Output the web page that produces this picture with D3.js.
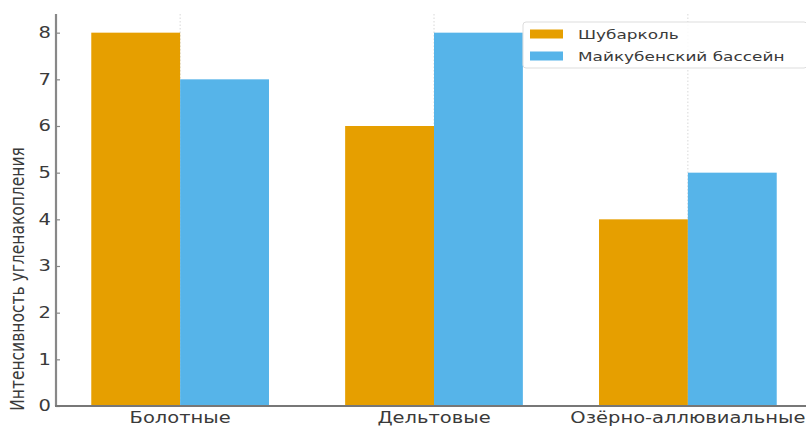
<!DOCTYPE html>
<html><head><meta charset="utf-8">
<script src="https://cdn.jsdelivr.net/npm/d3@7"></script>
<style>body{margin:0;background:#fff}svg{display:block}text{font-family:"DejaVu Sans",sans-serif}</style>
</head><body><svg id="c" width="806" height="426"></svg>
<script>
const categories = ["Болотные", "Дельтовые", "Озёрно-аллювиальные"];
const seriesNames = ["Шубарколь", "Майкубенский бассейн"];
const shubarkol = [8, 6, 4];
const maikuben = [7, 8, 5];
const colors = ["#E69F00", "#56B4E9"];
const yTicks = [0, 1, 2, 3, 4, 5, 6, 7, 8];
const yLabel = "Интенсивность угленакопления";

const svg = d3.select("#c");
const SX = 1.3;
const x = d3.scaleLinear().domain([-0.485, 2.485]).range([57, 811]);
const y = d3.scaleLinear().domain([0, 8.4]).range([406, 14]);
const bw = 0.35;
const series = [shubarkol, maikuben];

// vertical dotted grid at category centers
svg.append("g").selectAll("line").data(categories).join("line")
  .attr("x1", (d, i) => x(i)).attr("x2", (d, i) => x(i))
  .attr("y1", y(8.4)).attr("y2", y(0))
  .attr("stroke", "#d8d8d8").attr("stroke-width", 1).attr("stroke-dasharray", "1.5,2");

// bars
series.forEach((vals, s) => {
  svg.append("g").selectAll("rect").data(vals).join("rect")
    .attr("x", (d, i) => s === 0 ? x(i - bw) : x(i))
    .attr("width", x(bw) - x(0))
    .attr("y", d => y(d))
    .attr("height", d => y(0) - y(d))
    .attr("fill", colors[s]);
});

// y axis
const yAxis = d3.axisRight(y).tickValues(yTicks).tickSize(4).tickFormat(d3.format("d"));
const ga = svg.append("g").attr("transform", "translate(56,0)").call(yAxis);
ga.select(".domain").remove();
ga.selectAll(".tick line").attr("stroke", "#888").attr("stroke-width", 1.2);
ga.selectAll(".tick text").remove();
svg.append("g").selectAll("text").data(yTicks).join("text")
  .attr("transform", d => `translate(51,${y(d)}) scale(${SX},1)`)
  .attr("text-anchor", "end").attr("dy", "0.36em")
  .attr("font-size", 15).attr("fill", "#3a3a3a").text(d => d);

// spines
svg.append("line").attr("x1", 56).attr("x2", 56).attr("y1", y(8.4)).attr("y2", y(0))
  .attr("stroke", "#888").attr("stroke-width", 2.2);
svg.append("line").attr("x1", 55).attr("x2", 811).attr("y1", y(0)).attr("y2", y(0))
  .attr("stroke", "#777").attr("stroke-width", 2);

// x labels
svg.append("g").selectAll("text").data(categories).join("text")
  .attr("transform", (d, i) => `translate(${x(i)},423) scale(${SX},1)`)
  .attr("text-anchor", "middle").attr("font-size", 15).attr("fill", "#3a3a3a").text(d => d);

// y label
svg.append("text").attr("transform", "translate(24,279) rotate(-90) scale(1,1.3)")
  .attr("text-anchor", "middle").attr("font-size", 15.5).attr("fill", "#3a3a3a").text(yLabel);

// legend
const lg = svg.append("g");
lg.append("rect").attr("x", 523).attr("y", 22).attr("width", 284).attr("height", 46)
  .attr("rx", 3).attr("fill", "#fff").attr("fill-opacity", 0.85).attr("stroke", "#ddd");
seriesNames.forEach((n, i) => {
  const cy = 34 + i * 22;
  lg.append("rect").attr("x", 530).attr("y", cy - 4.5).attr("width", 33).attr("height", 9).attr("fill", colors[i]);
  lg.append("text").attr("transform", `translate(578,${cy}) scale(${SX},1)`)
    .attr("dy", "0.36em").attr("font-size", 13).attr("fill", "#3a3a3a").text(n);
});
</script></body></html>
